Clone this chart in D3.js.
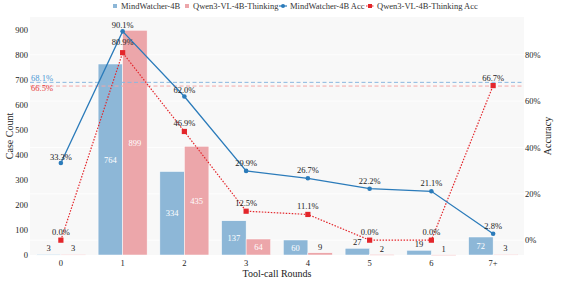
<!DOCTYPE html>
<html>
<head>
<meta charset="utf-8">
<script src="https://cdn.jsdelivr.net/npm/d3@7"></script>
<style>
  body { margin: 0; background: #fff; }
  svg, svg text { font-family: "Liberation Serif", "Times New Roman", serif; }
</style>
</head>
<body>
<svg id="chart" width="571" height="282"></svg>
<script>
// данные
const rounds = ["0", "1", "2", "3", "4", "5", "6", "7+"];
const mwCount = [3, 764, 334, 137, 60, 27, 19, 72];
const qwCount = [3, 899, 435, 64, 9, 2, 1, 3];
const mwAcc = [33.3, 90.1, 62.0, 29.9, 26.7, 22.2, 21.1, 2.8];
const qwAcc = [0.0, 80.9, 46.9, 12.5, 11.1, 0.0, 0.0, 66.7];
const avgAcc = [68.1, 66.5]; // средняя точность
const accTicks = [0, 20, 40, 60, 80];
const countTicks = [0, 100, 200, 300, 400, 500, 600, 700, 800, 900];
const seriesNames = ["MindWatcher-4B", "Qwen3-VL-4B-Thinking", "MindWatcher-4B Acc", "Qwen3-VL-4B-Thinking Acc"];

const colors = {
    barBlue: "#8db7d7",
    barPink: "#eca6aa",
    lineBlue: "#2b7bba",
    lineRed: "#e3262b",
    avgBlue: "#8ab8df",
    avgRed: "#f2a8a8"
};

const svg = d3.select("#chart");
const area = { left: 30, right: 524, top: 17, bottom: 255 };

// шкалы
const x = d3.scaleBand().domain(rounds).range([area.left, area.right]);
const yL = d3.scaleLinear().domain([0, 952]).range([area.bottom, area.top]);
const yR = d3.scaleLinear().domain([-6.4, 96.3]).range([area.bottom, area.top]);
const cx = d => x(d) + x.bandwidth() / 2;
const barW = x.bandwidth() * 0.397;

// фон
svg.append("rect")
    .attr("x", area.left).attr("y", area.top)
    .attr("width", area.right - area.left).attr("height", area.bottom - area.top)
    .attr("fill", "#f8f8f8");

// сетка
svg.append("g").selectAll("line")
    .data(accTicks)
    .join("line")
    .attr("x1", area.left).attr("x2", area.right)
    .attr("y1", d => yR(d)).attr("y2", d => yR(d))
    .attr("stroke", "#ffffff").attr("stroke-width", 0.8);

// оси (без линий)
const axL = svg.append("g")
    .attr("transform", `translate(${area.left},0)`)
    .call(d3.axisLeft(yL).tickValues(countTicks).tickSize(0).tickPadding(2));
const axR = svg.append("g")
    .attr("transform", `translate(${area.right},0)`)
    .call(d3.axisRight(yR).tickValues(accTicks).tickSize(0).tickPadding(1).tickFormat(d => d + "%"));
const axB = svg.append("g")
    .attr("transform", `translate(0,${area.bottom})`)
    .call(d3.axisBottom(x).tickSize(0).tickPadding(5));
[axL, axR, axB].forEach(a => {
    a.attr("font-family", null).attr("font-size", null);
    a.select(".domain").remove();
    a.selectAll("text").style("font-size", "8.5px").attr("fill", "#222")
        .style("font-family", "'Liberation Serif', serif");
});

// подписи осей
svg.append("text").attr("x", (area.left + area.right) / 2).attr("y", 277)
    .attr("text-anchor", "middle").attr("font-size", 10).attr("fill", "#222")
    .text("Tool-call Rounds");
svg.append("text").attr("transform", `translate(13,${(area.top + area.bottom) / 2}) rotate(-90)`)
    .attr("text-anchor", "middle").attr("font-size", 10).attr("fill", "#222")
    .text("Case Count");
svg.append("text").attr("transform", `translate(551,${(area.top + area.bottom) / 2}) rotate(-90)`)
    .attr("text-anchor", "middle").attr("font-size", 10).attr("fill", "#222")
    .text("Accuracy");

// столбцы
function drawBars(values, color, shift) {
    const g = svg.append("g");
    g.selectAll("rect")
        .data(values)
        .join("rect")
        .attr("x", (d, i) => cx(rounds[i]) + shift)
        .attr("y", d => yL(d))
        .attr("width", barW)
        .attr("height", d => Math.max(yL(0) - yL(d), 0.8))
        .attr("fill", color)
        .attr("stroke", "#ffffff").attr("stroke-width", 0.5);
    g.selectAll("text")
        .data(values)
        .join("text")
        .attr("x", (d, i) => cx(rounds[i]) + shift + barW / 2)
        .attr("y", d => d >= 60 ? (yL(d) + yL(0)) / 2 + 3 : yL(d) - 3)
        .attr("text-anchor", "middle")
        .attr("font-size", 8.5)
        .attr("fill", d => d >= 60 ? "#ffffff" : "#222")
        .text(d => d);
}
drawBars(mwCount, colors.barBlue, -barW);
drawBars(qwCount, colors.barPink, 0);

// средние линии
avgAcc.forEach((v, i) => {
    const c = i == 0 ? colors.avgBlue : colors.avgRed;
    svg.append("line")
        .attr("x1", area.left).attr("x2", area.right)
        .attr("y1", yR(v)).attr("y2", yR(v))
        .attr("stroke", c).attr("stroke-width", 1).attr("stroke-dasharray", "4,2.5");
    svg.append("text")
        .attr("x", area.left + 1).attr("y", yR(v) + (i == 0 ? -1.5 : 4.5))
        .attr("font-size", 8.5)
        .attr("fill", i == 0 ? "#4a98d6" : "#e6383c")
        .text(v.toFixed(1) + "%");
});

// линии точности
const line = d3.line().x((d, i) => cx(rounds[i])).y(d => yR(d));
svg.append("path").datum(qwAcc)
    .attr("d", line).attr("fill", "none")
    .attr("stroke", colors.lineRed).attr("stroke-width", 1.2).attr("stroke-dasharray", "1.5,1.5");
svg.append("path").datum(mwAcc)
    .attr("d", line).attr("fill", "none")
    .attr("stroke", colors.lineBlue).attr("stroke-width", 1.3);

svg.append("g").selectAll("rect")
    .data(qwAcc).join("rect")
    .attr("x", (d, i) => cx(rounds[i]) - 2.6).attr("y", d => yR(d) - 2.6)
    .attr("width", 5.2).attr("height", 5.2).attr("fill", colors.lineRed);
svg.append("g").selectAll("circle")
    .data(mwAcc).join("circle")
    .attr("cx", (d, i) => cx(rounds[i])).attr("cy", d => yR(d))
    .attr("r", 2.3).attr("fill", colors.lineBlue);

// подписи точности
function accLabels(values, dy) {
    svg.append("g").selectAll("text")
        .data(values).join("text")
        .attr("x", (d, i) => cx(rounds[i])).attr("y", (d, i) => yR(d) - dy(d, i))
        .attr("text-anchor", "middle").attr("font-size", 8.5).attr("fill", "#222")
        .text(d => d.toFixed(1) + "%");
}
accLabels(mwAcc, (d, i) => i <= 2 ? 3 : 5);
accLabels(qwAcc, (d, i) => i == 1 ? 8 : 5);

// легенда
const leg = svg.append("g").attr("font-size", 8.5).attr("fill", "#333");
const legX = [113, 185, 279, 366];
seriesNames.forEach((name, i) => {
    const g = leg.append("g").attr("transform", `translate(${legX[i]},6)`);
    if (i < 2) {
        g.append("rect").attr("x", 0).attr("y", -2).attr("width", 4).attr("height", 4)
            .attr("fill", i == 0 ? colors.barBlue : colors.barPink);
        g.append("text").attr("x", 8).attr("y", 3).text(name);
    } else {
        const c = i == 2 ? colors.lineBlue : colors.lineRed;
        g.append("line").attr("x1", 0).attr("x2", 8).attr("y1", 0).attr("y2", 0)
            .attr("stroke", c).attr("stroke-width", 1.2)
            .attr("stroke-dasharray", i == 3 ? "1.5,1.5" : null);
        if (i == 2) g.append("circle").attr("cx", 4).attr("cy", 0).attr("r", 2).attr("fill", c);
        else g.append("rect").attr("x", 2).attr("y", -2).attr("width", 4).attr("height", 4).attr("fill", c);
        g.append("text").attr("x", 11).attr("y", 3).text(name);
    }
});
</script>
</body>
</html>
